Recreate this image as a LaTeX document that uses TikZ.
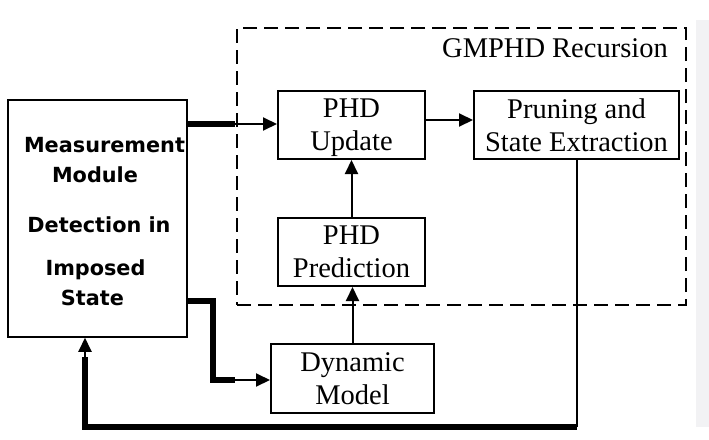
\documentclass[tikz,border=0pt]{standalone}
\usepackage{fontspec}
\setmainfont{Liberation Serif}
\newfontfamily\msans{DejaVu Sans}
\usetikzlibrary{arrows.meta}
\definecolor{panel}{HTML}{F2F2F4}
\begin{document}
\begin{tikzpicture}[x=1pt,y=-1pt,
  blk/.style={draw,line width=2pt,font=\fontsize{28.5}{33}\selectfont,align=center,inner sep=0pt},
  msx/.style={font=\msans\bfseries\fontsize{20.8}{24}\selectfont,anchor=base,inner sep=0pt},
  thinline/.style={line width=2pt},
  thickline/.style={line width=5.5pt},
  arr/.style={-{Triangle[length=14pt,width=13pt]},line width=2pt}]
\useasboundingbox (0,0) rectangle (709,439);
\fill[panel] (696,20) rectangle (709,427);
% dashed recursion frame
\node[draw,line width=2.2pt,dash pattern=on 14pt off 7pt,minimum width=449pt,minimum height=277pt,inner sep=0pt] (rec) at (461.5,166.5) {};
\node[font=\fontsize{28.5}{33}\selectfont,anchor=base east,inner sep=0pt] (rectitle) at (668,57) {GMPHD Recursion};
% blocks
\node[blk,minimum width=147pt,minimum height=68pt] (upd) at (351.5,125) {PHD\\\raisebox{0pt}[\height][0pt]{Update}};
\node[blk,minimum width=205pt,minimum height=68pt] (pru) at (576.5,125) {Pruning and\\State Extraction};
\node[blk,minimum width=147pt,minimum height=68pt] (pred) at (351.5,252) {PHD\\Prediction};
\node[blk,minimum width=163pt,minimum height=69pt] (dyn) at (352.5,378.5) {Dynamic\\Model};
\node[draw,line width=1.5pt,minimum width=179pt,minimum height=237pt,inner sep=0pt] (meas) at (97.5,218.5) {};
\node[msx] (m1) at (104.5,152) {Measurement};
\node[msx] (m2) at (95,182) {Module};
\node[msx] (m3) at (99,232) {Detection in};
\node[msx] (m4) at (95.5,275) {Imposed};
\node[msx] (m5) at (92.5,305) {State};
% junctions
\coordinate (j1) at (235,124);
\coordinate (j2) at (213,301);
\coordinate (j3) at (213,380);
\coordinate (j4) at (235,380);
\coordinate (j5) at (577,427);
\coordinate (j6) at (85,427);
\coordinate (j7) at (85,357);
% connectors
\draw[thickline] (j1 -| meas.east) -- (j1);
\draw[arr] (j1) -- (j1 -| upd.west);
\draw[arr] ([yshift=5pt]upd.east) -- ([yshift=5pt]pru.west);
\draw[arr] (pred.north) -- (upd.south);
\draw[arr] (dyn.north) -- (dyn.north |- pred.south);
\draw[thickline] (j2 -| meas.east) -- (j2) -- (j3) -- (j4);
\draw[arr] (j4) -- (j4 -| dyn.west);
\draw[thinline] (j5 |- pru.south) -- (j5);
\draw[thickline] (j5) -- (j6) -- (j7);
\draw[arr] (j7) -- (j7 |- meas.south);
\end{tikzpicture}
\end{document}
